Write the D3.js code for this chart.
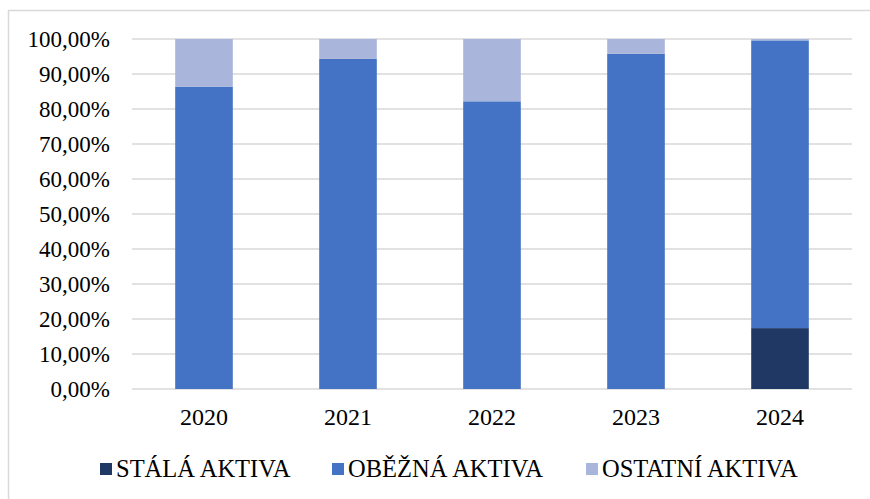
<!DOCTYPE html>
<html>
<head>
<meta charset="utf-8">
<script src="https://cdn.jsdelivr.net/npm/d3@7"></script>
<style>
  body { margin: 0; background: #fff; }
</style>
</head>
<body>
<svg id="chart" width="870" height="499"></svg>
<script>
const years = ['2020', '2021', '2022', '2023', '2024'];
const seriesNames = ['STÁLÁ AKTIVA', 'OBĚŽNÁ AKTIVA', 'OSTATNÍ AKTIVA'];
const stala = [0, 0, 0, 0, 17.4];
const obezna = [86.4, 94.3, 82.2, 95.8, 82.2];
const ostatni = [13.6, 5.7, 17.8, 4.2, 0.4];
const yTicks = [0, 10, 20, 30, 40, 50, 60, 70, 80, 90, 100];
const colors = ['#203864', '#4472C4', '#A9B5DA'];

const FONT = "'Liberation Serif', 'Times New Roman', 'DejaVu Serif', serif";

const svg = d3.select('#chart')
  .attr('font-family', FONT)
  .style('font-family', FONT);
const margin = { left: 132, right: 18, top: 39, bottom: 110 };
const width = 870 - margin.left - margin.right;
const height = 499 - margin.top - margin.bottom;

// outer chart border (only left and top are inside the picture)
svg.append('rect')
  .attr('x', 8.5).attr('y', 10.5)
  .attr('width', 900).attr('height', 600)
  .attr('fill', 'none')
  .attr('stroke', '#d9d9d9')
  .attr('stroke-width', 1.5);

const g = svg.append('g').attr('transform', `translate(${margin.left},${margin.top})`);

const x = d3.scaleBand().domain(years).range([0, width]).paddingInner(0.6).paddingOuter(0.3);
const y = d3.scaleLinear().domain([0, 100]).range([height, 0]);

const fmt = v => v.toFixed(2).replace('.', ',') + '%';

// gridlines
g.append('g')
  .selectAll('line')
  .data(yTicks)
  .join('line')
  .attr('x1', 0).attr('x2', width)
  .attr('y1', d => y(d)).attr('y2', d => y(d))
  .attr('stroke', '#d9d9d9')
  .attr('stroke-width', 1.5);

// y labels
g.append('g')
  .selectAll('text')
  .data(yTicks)
  .join('text')
  .attr('x', -22)
  .attr('y', d => y(d))
  .attr('dy', '0.35em')
  .attr('text-anchor', 'end')
  .style('font-size', '23px')
  .text(fmt);

// stacked bars
const rows = years.map((yr, i) => ({ year: yr, s0: stala[i], s1: obezna[i], s2: ostatni[i] }));
const stack = d3.stack().keys(['s0', 's1', 's2'])(rows);

g.append('g')
  .selectAll('g')
  .data(stack)
  .join('g')
  .attr('fill', (d, i) => colors[i])
  .selectAll('rect')
  .data(d => d)
  .join('rect')
  .attr('x', d => x(d.data.year))
  .attr('width', x.bandwidth())
  .attr('y', d => y(d[1]))
  .attr('height', d => y(d[0]) - y(d[1]));

// x labels
g.append('g')
  .selectAll('text')
  .data(years)
  .join('text')
  .attr('x', d => x(d) + x.bandwidth() / 2)
  .attr('y', height + 36)
  .attr('text-anchor', 'middle')
  .style('font-size', '24px')
  .text(d => d);

// legend
const legendX = [100, 332, 586];
const legend = svg.append('g')
  .selectAll('g')
  .data(seriesNames)
  .join('g')
  .attr('transform', (d, i) => `translate(${legendX[i]},463)`);

legend.append('rect')
  .attr('width', 12).attr('height', 12)
  .attr('fill', (d, i) => colors[i]);

legend.append('text')
  .attr('x', 16)
  .attr('y', 13.5)
  .style('font-size', '24.5px')
  .text(d => d);
</script>
</body>
</html>
